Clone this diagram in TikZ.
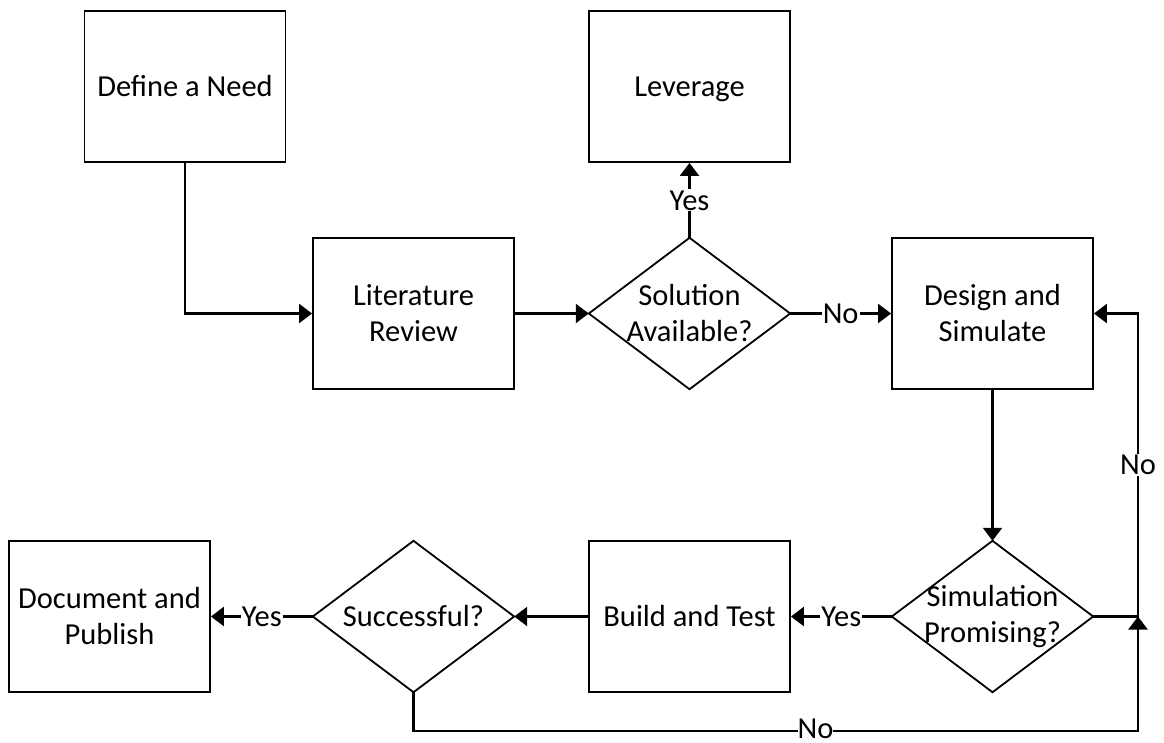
\documentclass[tikz,border=0pt]{standalone}
\usepackage{fontspec}
\setmainfont{Carlito}
\usetikzlibrary{arrows.meta}
\begin{document}
\begin{tikzpicture}[x=1pt,y=-1pt,
  every node/.style={font=\fontsize{30.5}{36}\selectfont},
  stepbox/.style={draw, line width=1.8pt, minimum width=201pt, minimum height=151pt, inner sep=0pt, align=center},
  decision/.style={minimum width=201pt, minimum height=151pt, inner sep=0pt, align=center},
  flow/.style={line width=2.2pt, -{Triangle[length=13pt,width=19pt]}},
  lbl/.style={fill=white, inner sep=1pt}
]
\useasboundingbox (0,0) rectangle (1164,742);

% process boxes
\node[stepbox] (need)  at (185,86.5)   {Define a Need};
\node[stepbox] (lev)   at (689.5,86.5) {\raisebox{0pt}[\height][0pt]{Leverage}};
\node[stepbox] (lit)   at (413.5,313.5) {Literature\\Review};
\node[stepbox] (des)   at (992.5,313.5) {Design and\\Simulate};
\node[stepbox] (build) at (689.5,616.5) {Build and Test};
\node[stepbox] (doc)   at (109.5,616.5) {Document and\\Publish};

% decisions: text nodes with a diamond outline through their side midpoints
\node[decision] (sol)  at (689.5,313.5) {Solution\\Available?};
\node[decision] (prom) at (992.5,616.5) {Simulation\\Promising?};
\node[decision] (succ) at (413.5,616.5) {Successful?};
\foreach \d in {sol,prom,succ}
  \draw[line width=1.8pt, line join=miter] (\d.north) -- (\d.east) -- (\d.south) -- (\d.west) -- cycle;

% routing points
\coordinate (rr) at (1138,616.5);
\coordinate (rt) at (1138,313.5);
\coordinate (bl) at (413.5,731);
\coordinate (br) at (1138,731);

% connectors
\draw[flow] (need.south) |- (lit.west);
\draw[flow] (lit.east) -- (sol.west);
\draw[flow] (sol.north) -- node[lbl] {Yes} (lev.south);
\draw[flow] (sol.east) -- node[lbl] {No} (des.west);
\draw[flow] (des.south) -- (prom.north);
\draw[flow] (prom.east) -- (rr) -- node[lbl] {No} (rt) -- (des.east);
\draw[flow] (prom.west) -- node[lbl] {Yes} (build.east);
\draw[flow] (build.west) -- (succ.east);
\draw[flow] (succ.west) -- node[lbl] {Yes} (doc.east);
\draw[flow] (succ.south) -- (bl) -- node[lbl, pos=0.555, inner sep=0pt, yshift=2pt] {No} (br) -- (rr);
\end{tikzpicture}
\end{document}
